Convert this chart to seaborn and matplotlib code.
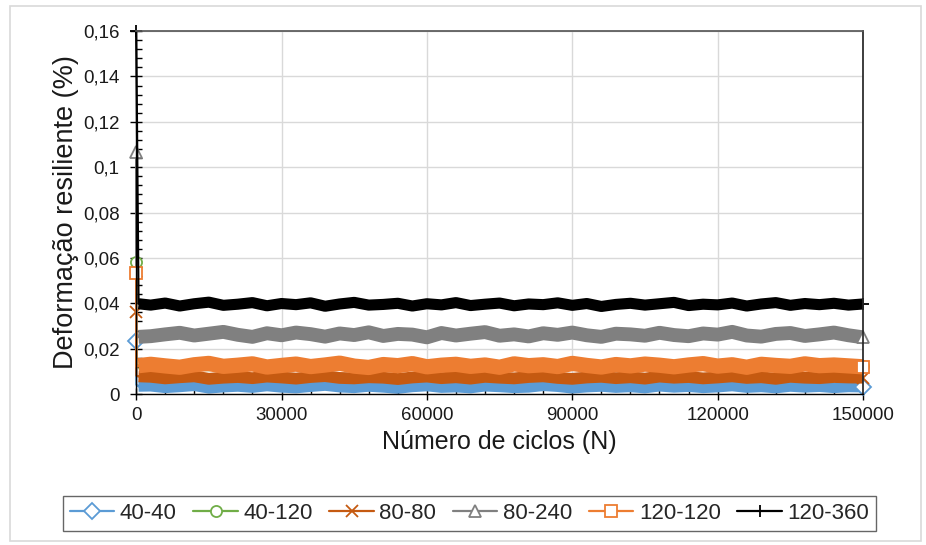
import matplotlib
matplotlib.use("Agg")
import matplotlib.pyplot as plt
import matplotlib.ticker as mticker
from matplotlib.lines import Line2D
from matplotlib.patches import Rectangle
import seaborn as sns
import pandas as pd

# numero de ciclos
cycles = [0, 50, 500, 3000, 6000, 9000, 12000, 15000, 18000, 21000, 24000,
          27000, 30000, 33000, 36000, 39000, 42000, 45000, 48000, 51000, 54000,
          57000, 60000, 63000, 66000, 69000, 72000, 75000, 78000, 81000, 84000,
          87000, 90000, 93000, 96000, 99000, 102000, 105000, 108000, 111000, 114000,
          117000, 120000, 123000, 126000, 129000, 132000, 135000, 138000, 141000, 144000,
          147000, 150000]

# deformacao resiliente (%) por ensaio
s_40_40 = [0.0232, 0.0041, 0.0033, 0.0034, 0.0027, 0.0031, 0.0036, 0.0025, 0.0030, 0.0033, 0.0028,
           0.0035, 0.0029, 0.0026, 0.0032, 0.0037, 0.0030, 0.0027, 0.0033, 0.0029, 0.0024,
           0.0031, 0.0035, 0.0028, 0.0030, 0.0026, 0.0034, 0.0031, 0.0027, 0.0029, 0.0036,
           0.0032, 0.0025, 0.0030, 0.0033, 0.0028, 0.0031, 0.0026, 0.0034, 0.0029, 0.0032,
           0.0027, 0.0030, 0.0035, 0.0028, 0.0031, 0.0026, 0.0033, 0.0029, 0.0032, 0.0027,
           0.0031, 0.0030]
s_40_120 = [0.0580, 0.0128, 0.0125, 0.0123, 0.0118, 0.0126, 0.0121, 0.0117, 0.0124, 0.0127, 0.0120,
            0.0122, 0.0126, 0.0118, 0.0121, 0.0125, 0.0119, 0.0123, 0.0127, 0.0120, 0.0118,
            0.0124, 0.0121, 0.0126, 0.0119, 0.0122, 0.0117, 0.0125, 0.0123, 0.0119, 0.0121,
            0.0127, 0.0120, 0.0124, 0.0118, 0.0122, 0.0126, 0.0119, 0.0123, 0.0117, 0.0121,
            0.0125, 0.0119, 0.0124, 0.0120, 0.0127, 0.0122, 0.0118, 0.0123, 0.0119, 0.0125,
            0.0121, 0.0123]
s_80_80 = [0.0360, 0.0081, 0.0078, 0.0076, 0.0069, 0.0074, 0.0078, 0.0067, 0.0072, 0.0075, 0.0070,
           0.0077, 0.0073, 0.0068, 0.0075, 0.0079, 0.0071, 0.0069, 0.0074, 0.0072, 0.0066,
           0.0073, 0.0077, 0.0070, 0.0074, 0.0068, 0.0076, 0.0072, 0.0069, 0.0075, 0.0078,
           0.0071, 0.0067, 0.0073, 0.0076, 0.0070, 0.0074, 0.0068, 0.0077, 0.0072, 0.0075,
           0.0069, 0.0073, 0.0078, 0.0071, 0.0074, 0.0067, 0.0076, 0.0072, 0.0070, 0.0075,
           0.0073, 0.0072]
s_80_240 = [0.1065, 0.0248, 0.0252, 0.0255, 0.0263, 0.0270, 0.0258, 0.0266, 0.0274, 0.0261, 0.0252,
            0.0268, 0.0259, 0.0271, 0.0264, 0.0253, 0.0267, 0.0260, 0.0272, 0.0256, 0.0265,
            0.0262, 0.0250, 0.0269, 0.0258, 0.0266, 0.0273, 0.0257, 0.0263, 0.0254, 0.0268,
            0.0261, 0.0271, 0.0259, 0.0252, 0.0266, 0.0263, 0.0257, 0.0270, 0.0260, 0.0255,
            0.0267, 0.0262, 0.0274, 0.0258, 0.0253, 0.0265, 0.0269, 0.0256, 0.0263, 0.0271,
            0.0259, 0.0250]
s_120_120 = [0.0535, 0.0120, 0.0125, 0.0131, 0.0124, 0.0118, 0.0129, 0.0135, 0.0122, 0.0127, 0.0133,
             0.0119, 0.0126, 0.0132, 0.0121, 0.0128, 0.0136, 0.0123, 0.0117, 0.0130, 0.0125,
             0.0134, 0.0120, 0.0127, 0.0131, 0.0122, 0.0128, 0.0118, 0.0133, 0.0125, 0.0129,
             0.0121, 0.0135, 0.0126, 0.0119, 0.0130, 0.0124, 0.0132, 0.0127, 0.0120, 0.0128,
             0.0134, 0.0123, 0.0129, 0.0118, 0.0131, 0.0126, 0.0122, 0.0133, 0.0125, 0.0128,
             0.0124, 0.0120]
s_120_360 = [0.1600, 0.1500, 0.0398, 0.0392, 0.0401, 0.0388, 0.0398, 0.0405, 0.0391, 0.0396, 0.0403,
             0.0389, 0.0399, 0.0394, 0.0402, 0.0387, 0.0397, 0.0404, 0.0392, 0.0395, 0.0400,
             0.0388, 0.0398, 0.0393, 0.0403, 0.0390, 0.0396, 0.0401, 0.0389, 0.0397, 0.0394,
             0.0402, 0.0391, 0.0399, 0.0386, 0.0395, 0.0400, 0.0392, 0.0398, 0.0404, 0.0390,
             0.0396, 0.0393, 0.0401, 0.0388, 0.0397, 0.0403, 0.0391, 0.0399, 0.0394, 0.0400,
             0.0392, 0.0397]

series_labels = ["40-40", "40-120", "80-80", "80-240", "120-120", "120-360"]
series_colors = ["#5B9BD5", "#70AD47", "#C55A11", "#808080", "#ED7D31", "#000000"]
series_markers = ["D", "o", "x", "^", "s", "+"]
# the dense, noisy readings appear as a thick band in the original chart
band_widths = [7.5, 5.5, 8.5, 10.0, 11.0, 8.0]


def comma_fmt(v, pos):
    return f"{v:g}".replace(".", ",")


def marker_style(color, marker):
    msize = 9 if marker in ("x", "+") else 8
    return dict(marker=marker, markersize=msize, markerfacecolor="white",
                markeredgecolor=color, markeredgewidth=1.3)


def save_plot(out_fp):
    sns.set_theme(style="white")
    plt.rcParams["font.family"] = ["Liberation Sans", "DejaVu Sans"]

    fig = plt.figure(figsize=(9.26, 5.45), dpi=100)
    ax = fig.add_axes([0.147, 0.277, 0.785, 0.666])

    all_values = [s_40_40, s_40_120, s_80_80, s_80_240, s_120_120, s_120_360]
    legend_handles = []
    for label, vals, color, marker, bw in zip(series_labels, all_values, series_colors,
                                              series_markers, band_widths):
        df = pd.DataFrame({"Ciclos": cycles, "Deformacao": vals})
        # initial readings: thin line dropping from the first cycle
        sns.lineplot(data=df.iloc[:3], x="Ciclos", y="Deformacao", ax=ax, color=color,
                     linewidth=1.6, sort=False, estimator=None, clip_on=False,
                     markevery=[0], **marker_style(color, marker))
        # remaining readings
        sns.lineplot(data=df.iloc[2:], x="Ciclos", y="Deformacao", ax=ax, color=color,
                     linewidth=bw, sort=False, estimator=None, clip_on=False,
                     solid_capstyle="butt", solid_joinstyle="round",
                     markevery=[len(df) - 3], **marker_style(color, marker))
        legend_handles.append(Line2D([0], [0], color=color, linewidth=1.6,
                                     **marker_style(color, marker)))

    ax.set_xlim(0, 150000)
    ax.set_ylim(0, 0.16)
    ax.xaxis.set_major_locator(mticker.MultipleLocator(30000))
    ax.xaxis.set_minor_locator(mticker.MultipleLocator(6000))
    ax.yaxis.set_major_locator(mticker.MultipleLocator(0.02))
    ax.yaxis.set_minor_locator(mticker.MultipleLocator(0.004))
    ax.yaxis.set_major_formatter(mticker.FuncFormatter(comma_fmt))
    ax.xaxis.set_major_formatter(mticker.FuncFormatter(lambda v, p: f"{int(v)}"))

    ax.grid(True, which="major", color="#D9D9D9", linewidth=1)
    ax.set_axisbelow(True)
    ax.tick_params(which="major", direction="inout", length=8, width=1, color="black",
                   labelsize=13.5, labelcolor="#1A1A1A")
    ax.tick_params(axis="x", which="major", pad=5)
    ax.tick_params(axis="y", which="major", pad=8)
    ax.tick_params(which="minor", direction="in", length=4, width=1, color="black")
    ax.tick_params(axis="x", which="both", bottom=True, top=False)
    ax.tick_params(axis="y", which="both", left=True, right=False)

    for side in ["left", "bottom"]:
        ax.spines[side].set_color("black")
        ax.spines[side].set_linewidth(1)
    ax.spines["top"].set_color("#595959")
    ax.spines["right"].set_color("#262626")

    ax.set_xlabel("Número de ciclos (N)", fontsize=18, color="#1A1A1A", labelpad=5)
    ax.set_ylabel("Deformação resiliente (%)", fontsize=19.5, color="#1A1A1A", labelpad=3)

    leg = fig.legend(legend_handles, series_labels, loc="center", bbox_to_anchor=(0.507, 0.058),
                     ncol=6, fontsize=16, frameon=True, fancybox=False,
                     handlelength=2.0, handletextpad=0.25, columnspacing=0.75,
                     borderpad=0.3)
    leg.get_frame().set_edgecolor("#404040")
    leg.get_frame().set_linewidth(1)

    fig.patches.append(Rectangle((0.011, 0.007), 0.984, 0.982, transform=fig.transFigure,
                                 fill=False, edgecolor="#D9D9D9", linewidth=1.2))

    fig.savefig(out_fp, dpi=100)


if __name__ == "__main__":
    save_plot("out.png")
